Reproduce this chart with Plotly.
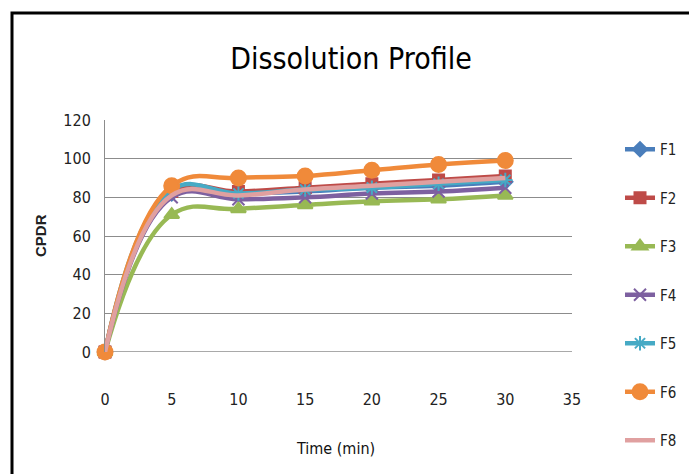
import plotly.graph_objects as go

# Sampling times (min)
time_min = [0, 5, 10, 15, 20, 25, 30]

# Cumulative percent drug released for each formulation
f1 = [0, 82, 82, 83, 85, 86, 88]
f2 = [0, 83, 83, 85, 87, 89, 91]
f3 = [0, 71, 74, 76, 78, 79, 81]
f4 = [0, 80, 79, 80, 82, 83, 85]
f5 = [0, 84, 82, 84, 85, 87, 89]
f6 = [0, 86, 90, 91, 94, 97, 99]
f8 = [0, 81, 81, 84, 86, 88, 90]

series_names = ["F1", "F2", "F3", "F4", "F5", "F6", "F8"]
series_values = [f1, f2, f3, f4, f5, f6, f8]
series_colors = ["#4A7EBB", "#BE4B48", "#98B954", "#7D60A0", "#46AAC5", "#F08A3A", "#E0A0A0"]
series_symbols = ["diamond", "square", "triangle-up", "x-thin", "asterisk", "circle", None]
series_sizes = [11, 11, 13, 12, 12, 15, 0]

FONT = "DejaVu Sans Condensed, Lato, sans-serif"

W, H = 689, 474
L, R, T, B = 105, W - 572, 120, H - 352

fig = go.Figure()
for i, (name, vals, col, sym, sz) in enumerate(
        zip(series_names, series_values, series_colors, series_symbols, series_sizes)):
    marker = dict(color=col, size=sz, line=dict(color=col, width=2))
    if sym is None:
        mode = "lines"
    else:
        mode = "lines+markers"
        marker["symbol"] = sym
    fig.add_trace(go.Scatter(
        x=time_min, y=vals, name=name, mode=mode,
        line=dict(color=col, width=4.5, shape="spline", smoothing=1.2),
        marker=marker, legendgroup=name, cliponaxis=False,
    ))

pw = W - L - R
ph = H - T - B

def px_to_x(px):
    return (px - L) / pw

def px_to_y(py):
    return (H - B - py) / ph

fig.update_layout(
    width=W, height=H,
    margin=dict(l=L, r=R, t=T, b=B, autoexpand=False),
    paper_bgcolor="white", plot_bgcolor="white",
    font=dict(family=FONT, color="#222222", size=15),
    title=dict(text="Dissolution Profile", x=351 / W, xanchor="center",
               y=1 - 58 / H, yanchor="middle",
               font=dict(family=FONT, size=30, color="black")),
    xaxis=dict(range=[0, 35], tickvals=[0, 5, 10, 15, 20, 25, 30, 35],
               showgrid=False, zeroline=False, showline=False,
               ticks="", ticklabelstandoff=36,
               tickfont=dict(family=FONT, size=16, color="#222222")),
    yaxis=dict(range=[0, 120], tickvals=[0, 20, 40, 60, 80, 100, 120],
               showgrid=True, gridcolor="#8C8C8C", gridwidth=1,
               zeroline=False, showline=True, linecolor="#8C8C8C", linewidth=1,
               ticks="", ticklabelstandoff=10,
               tickfont=dict(family=FONT, size=16, color="#222222")),
    legend=dict(x=px_to_x(620), xanchor="left", y=px_to_y(133), yanchor="top",
                tracegroupgap=26, itemwidth=30, maxheight=420,
                font=dict(family=FONT, size=15, color="#222222"),
                bgcolor="rgba(0,0,0,0)"),
    showlegend=True,
    annotations=[
        dict(text="<b>CPDR</b>", xref="paper", yref="paper",
             x=px_to_x(40), y=px_to_y(236), textangle=-90, showarrow=False,
             font=dict(family="Liberation Sans", size=15, color="#222222"),
             xanchor="center", yanchor="middle"),
        dict(text="Time (min)", xref="paper", yref="paper",
             x=px_to_x(335), y=px_to_y(448), showarrow=False,
             font=dict(family=FONT, size=16, color="#111111"),
             xanchor="center", yanchor="middle"),
    ],
    shapes=[
        # x baseline
        dict(type="line", xref="paper", yref="y", x0=0, x1=1, y0=0, y1=0,
             line=dict(color="#8C8C8C", width=1.5), layer="below"),
        # chart frame
        dict(type="rect", xref="paper", yref="paper",
             x0=px_to_x(12), x1=px_to_x(W + 20), y0=px_to_y(H + 20), y1=px_to_y(13),
             line=dict(color="black", width=3)),
    ],
)

fig.write_html("out.html")
